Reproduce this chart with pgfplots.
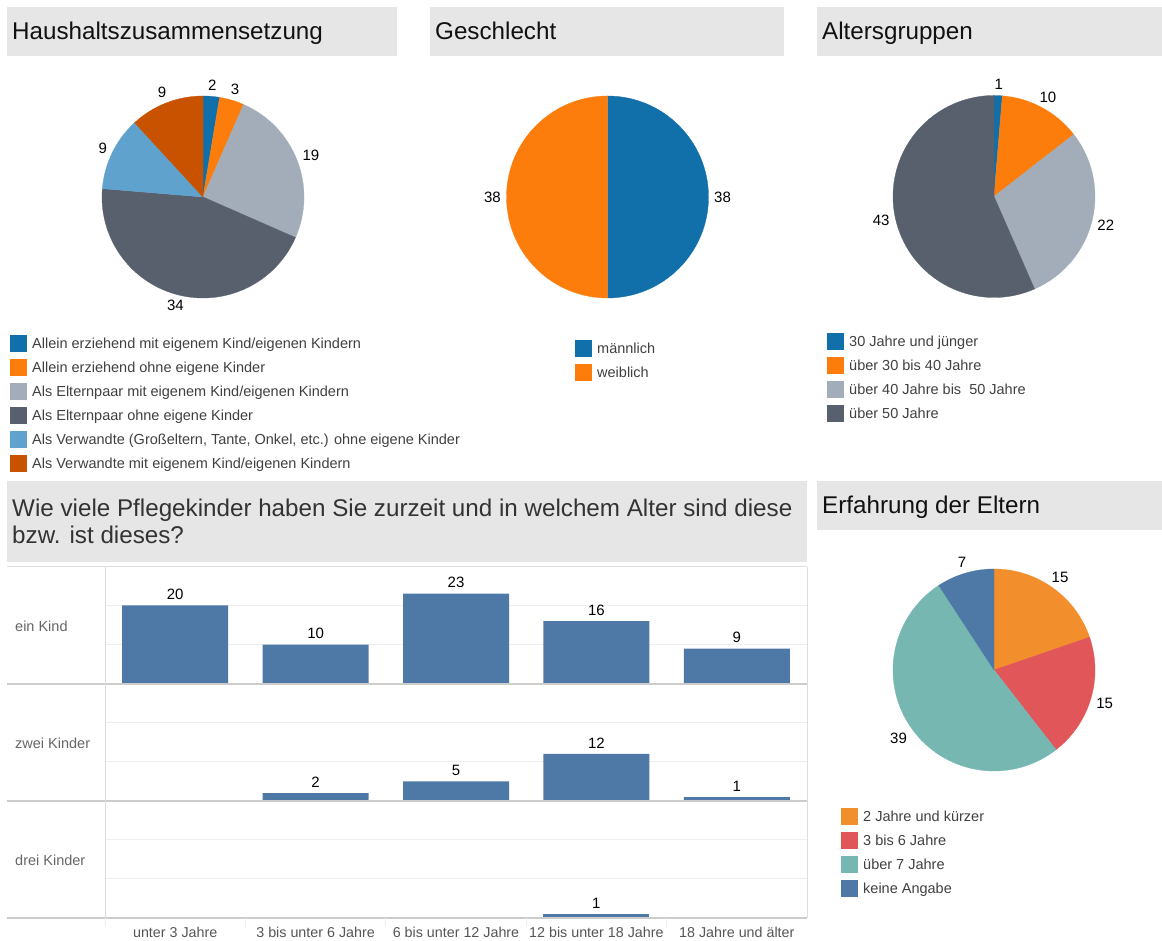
\documentclass[border=0pt]{standalone}
\usepackage{pgfplots}
\pgfplotsset{compat=1.18}
\usepackage{fontspec}
\setmainfont{Liberation Sans}

% Tableau colour-blind palette (upper pies)
\definecolor{cbBlue}{HTML}{1170AA}
\definecolor{cbOrange}{HTML}{FC7D0B}
\definecolor{cbLightGray}{HTML}{A3ACB9}
\definecolor{cbDarkGray}{HTML}{57606C}
\definecolor{cbLightBlue}{HTML}{5FA2CE}
\definecolor{cbDarkOrange}{HTML}{C85200}
% Tableau 10 palette (bars and experience pie)
\definecolor{tBlue}{HTML}{4E79A7}
\definecolor{tOrange}{HTML}{F28E2B}
\definecolor{tRed}{HTML}{E15759}
\definecolor{tTeal}{HTML}{76B7B2}
% furniture
\definecolor{titlebg}{HTML}{E6E6E6}
\definecolor{titletext}{HTML}{111111}
\definecolor{legendtext}{HTML}{404040}
\definecolor{rowtext}{HTML}{666666}
\definecolor{ticktext}{HTML}{555555}
\definecolor{framegray}{HTML}{CCCCCC}
\definecolor{lightframe}{HTML}{DDDDDD}
\definecolor{gridgray}{HTML}{EFEFEF}

\newcommand{\titlefont}{\fontsize{24.2}{27}\selectfont}
\newcommand{\legendfont}{\fontsize{14.5}{16}\selectfont}
\newcommand{\pielabelfont}{\fontsize{15}{17}\selectfont}

% pie chart: centre x, centre y, total, list value/colour (clockwise from 12 o'clock)
\newcommand{\piechart}[4]{%
\begin{axis}[at={(#1pt,#2pt)}, anchor=center, hide axis, scale only axis,
  x=1pt, y=1pt, xmin=-120, xmax=120, ymin=-120, ymax=120, clip=false]
\pgfplotsextra{%
  \gdef\pieacc{0}%
  \foreach \v/\c in {#4} {%
    \pgfmathsetmacro{\pa}{90-\pieacc/#3*360}%
    \pgfmathsetmacro{\pb}{90-(\pieacc+\v)/#3*360}%
    \pgfmathsetmacro{\pmid}{(\pa+\pb)/2}%
    \pgfmathsetmacro{\pn}{mod(\pmid+540,360)}%
    \fill[\c, draw=\c, line width=0.3pt] (axis cs:0,0) -- (axis cs:{101*cos(\pa)},{101*sin(\pa)})
      arc[start angle=\pa, end angle=\pb, radius=101pt] -- cycle;
    \node[anchor=\pn, font=\pielabelfont, inner sep=1.5pt, text=black]
      at (axis cs:{105*cos(\pmid)},{105*sin(\pmid)}) {\v};
    \pgfmathsetmacro{\pnext}{\pieacc+\v}\xdef\pieacc{\pnext}%
  }%
}
\end{axis}}

% legend key: left x, centre y, colour, text
\newcommand{\legendkey}[4]{%
  \fill[#3] (#1pt,{#2pt-8.5pt}) rectangle ({#1pt+17pt},{#2pt+8.5pt});
  \node[anchor=base west, inner sep=0pt, text=legendtext, font=\legendfont]
    at ({#1pt+22pt},{#2pt-5pt}) {#4};
}

% header bar: x1, y1, x2, y2, baseline y, text
\newcommand{\header}[6]{%
  \fill[titlebg] (#1pt,#2pt) rectangle (#3pt,#4pt);
  \node[anchor=base west, inner sep=0pt, text=titletext, font=\titlefont]
    at ({#1pt+5pt},#5pt) {#6};
}

\pgfplotsset{
  barpanel/.style={
    scale only axis, width=702pt, height=117pt,
    anchor=south west,
    xmin=-0.5, xmax=4.5, ymin=0, ymax=29.8,
    ybar, bar width=0.755,
    axis line style={draw=none},
    tick style={draw=none},
    ytick={10,20}, yticklabels={},
    ymajorgrids, major grid style={draw=gridgray, line width=0.8pt},
    xtick=\empty,
    clip=false,
    /pgf/number format/assume math mode=true,
    nodes near coords,
    nodes near coords style={font=\pielabelfont, text=black, inner sep=3pt, yshift=2.5pt},
  }
}

\begin{document}
\begin{tikzpicture}
\path[use as bounding box] (0pt,0pt) rectangle (1162pt,941pt);

% ---------- headers ----------
\header{7}{934}{397}{885.3}{901.5}{Haushaltszusammensetzung}
\header{430}{934}{784}{885.3}{901.5}{Geschlecht}
\header{817}{934}{1162}{885.3}{901.5}{Altersgruppen}
\header{817}{460}{1162}{411}{427.7}{Erfahrung der Eltern}
\fill[titlebg] (7pt,460pt) rectangle (807pt,378.5pt);
\node[anchor=base west, inner sep=0pt, text=legendtext!80!black, font=\titlefont]
  at (12pt,424.3pt) {Wie viele Pflegekinder haben Sie zurzeit und in welchem Alter sind diese};
\node[anchor=base west, inner sep=0pt, text=legendtext!80!black, font=\titlefont]
  at (12pt,397.5pt) {bzw. ist dieses?};

% ---------- pies ----------
\piechart{203}{744}{76}{2/cbBlue, 3/cbOrange, 19/cbLightGray, 34/cbDarkGray, 9/cbLightBlue, 9/cbDarkOrange}
\piechart{607.5}{744}{76}{38/cbBlue, 38/cbOrange}
\piechart{994}{744.5}{76}{1/cbBlue, 10/cbOrange, 22/cbLightGray, 43/cbDarkGray}
\piechart{994}{271}{76}{15/tOrange, 15/tRed, 39/tTeal, 7/tBlue}

% ---------- legends ----------
\legendkey{10}{597}{cbBlue}{Allein erziehend mit eigenem Kind/eigenen Kindern}
\legendkey{10}{573}{cbOrange}{Allein erziehend ohne eigene Kinder}
\legendkey{10}{549}{cbLightGray}{Als Elternpaar mit eigenem Kind/eigenen Kindern}
\legendkey{10}{525}{cbDarkGray}{Als Elternpaar ohne eigene Kinder}
\legendkey{10}{501}{cbLightBlue}{Als Verwandte (Großeltern, Tante, Onkel, etc.) ohne eigene Kinder}
\legendkey{10}{477}{cbDarkOrange}{Als Verwandte mit eigenem Kind/eigenen Kindern}

\legendkey{575}{592}{cbBlue}{männlich}
\legendkey{575}{568}{cbOrange}{weiblich}

\legendkey{827}{599}{cbBlue}{30 Jahre und jünger}
\legendkey{827}{575}{cbOrange}{über 30 bis 40 Jahre}
\legendkey{827}{551}{cbLightGray}{über 40 Jahre bis\ \ 50 Jahre}
\legendkey{827}{527}{cbDarkGray}{über 50 Jahre}

\legendkey{841}{124.5}{tOrange}{2 Jahre und kürzer}
\legendkey{841}{100}{tRed}{3 bis 6 Jahre}
\legendkey{841}{76}{tTeal}{über 7 Jahre}
\legendkey{841}{52}{tBlue}{keine Angabe}

% ---------- bar panels ----------
\begin{axis}[barpanel, at={(105pt,257pt)}]
\addplot[fill=tBlue, draw=none] coordinates {(0,20) (1,10) (2,23) (3,16) (4,9)};
\end{axis}
\begin{axis}[barpanel, at={(105pt,140pt)}]
\addplot[fill=tBlue, draw=none] coordinates {(1,2) (2,5) (3,12) (4,1)};
\end{axis}
\begin{axis}[barpanel, at={(105pt,23pt)},
  xtick={0,1,2,3,4},
  xticklabels={unter 3 Jahre, 3 bis unter 6 Jahre, 6 bis unter 12 Jahre, 12 bis unter 18 Jahre, 18 Jahre und älter},
  xticklabel style={anchor=north, inner sep=0pt, yshift=-5pt, text=ticktext, font=\fontsize{14.3}{16}\selectfont}]
\addplot[fill=tBlue, draw=none] coordinates {(3,1)};
\end{axis}

% panel frame
\draw[lightframe, line width=1pt] (7pt,374pt) -- (807pt,374pt);
\draw[framegray, line width=1.2pt] (7pt,257pt) -- (807pt,257pt);
\draw[framegray, line width=1.2pt] (7pt,140pt) -- (807pt,140pt);
\draw[framegray, line width=1.2pt] (7pt,23pt) -- (807pt,23pt);
\draw[lightframe, line width=1pt] (105pt,374pt) -- (105pt,23pt);
\draw[lightframe, line width=1pt] (807pt,374pt) -- (807pt,23pt);
\foreach \sx in {105,245.4,385.8,526.2,666.6}
  \draw[gridgray, line width=0.8pt] (\sx pt,23pt) -- (\sx pt,14pt);

% row headers
\node[anchor=west, inner sep=0pt, text=rowtext, font=\legendfont] at (15pt,315pt) {ein Kind};
\node[anchor=west, inner sep=0pt, text=rowtext, font=\legendfont] at (15pt,198pt) {zwei Kinder};
\node[anchor=west, inner sep=0pt, text=rowtext, font=\legendfont] at (15pt,81pt) {drei Kinder};
\end{tikzpicture}
\end{document}
